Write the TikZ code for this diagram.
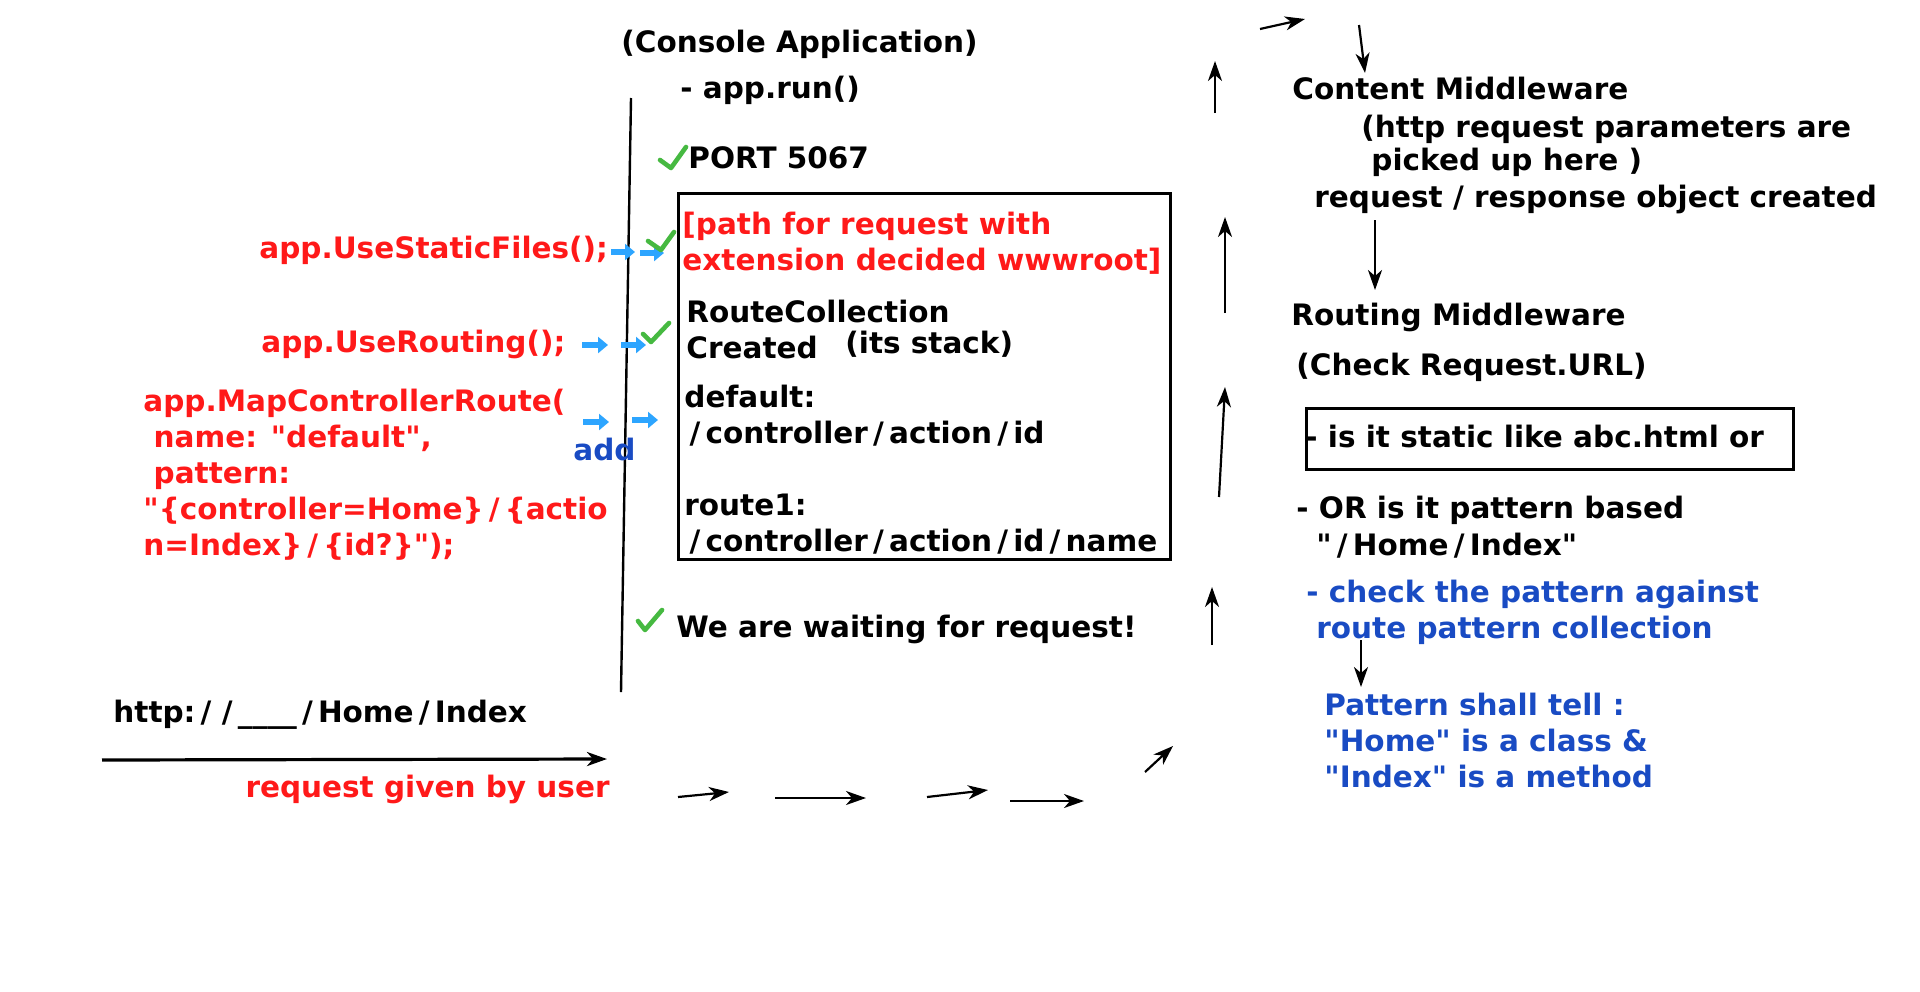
\documentclass[tikz,border=0pt]{standalone}
\usepackage{fontspec}
\newfontfamily\notefont{DejaVu Sans}
\usetikzlibrary{arrows.meta}
\definecolor{notered}{RGB}{255,25,25}
\definecolor{noteblue}{RGB}{25,75,195}
\definecolor{hintblue}{RGB}{45,165,255}
\definecolor{tickgreen}{RGB}{70,185,65}
\newcommand\wsl{\kern2.6pt/\kern2.6pt}
\tikzset{
  txt/.style={anchor=base west, inner sep=0pt, align=left, font=\notefont\fontsize{14.75}{18}\selectfont\bfseries},
  redtxt/.style={txt, text=notered},
  bluetxt/.style={txt, text=noteblue},
  frame/.style={draw, line width=1.3pt, inner sep=0pt, anchor=north west},
  flow/.style={-{Stealth[length=10pt,width=7pt,inset=3pt]}, line width=1.1pt},
  hint/.style={-{Triangle[length=5pt,width=8pt]}, line width=2.6pt, draw=hintblue},
  tick/.style={draw=tickgreen, line width=2.3pt, line cap=round, line join=round},
}

\begin{document}
\begin{tikzpicture}[x=0.5pt, y=-0.5pt]
  \useasboundingbox (0,0) rectangle (1920,991);

  % console application column (multi-line nodes sit on their last line)
  \node[txt] (console) at (621,52) {(Console Application)};
  \node[txt] (run) at (680,98) {- app.run()};
  \node[txt] (port) at (688,168) {PORT 5067};
  \node[frame, minimum width=246pt, minimum height=183pt] (store) at (677,192) {};
  \node[redtxt] (wwwroot) at (682,270) {[path for request with\\extension decided wwwroot]};
  \node[txt] (routes) at (686,358) {RouteCollection\\Created};
  \node[txt] (stack) at (845,353) {(its stack)};
  \node[txt] (deflt) at (684,443) {default:\\\wsl controller\wsl action\wsl id};
  \node[txt] (route1) at (684,551) {route1:\\\wsl controller\wsl action\wsl id\wsl name};
  \node[txt] (wait) at (676,637) {We are waiting for request!};
  \coordinate (life-top) at (631,98);
  \coordinate (life-end) at (621,692);
  \draw[line width=1.2pt] (life-top) -- (life-end);

  % program.cs calls
  \node[redtxt] (static) at (259,258) {app.UseStaticFiles();};
  \node[redtxt] (routing) at (261,352) {app.UseRouting();};
  \node[redtxt] (mapper) at (143,555) {app.MapControllerRoute(\\\ name: "default",\\\ pattern:\\"\{controller=Home\}\wsl\{actio\\n=Index\}\wsl\{id?\}");};
  \node[bluetxt] (add) at (573,460) {add};

  % user request
  \node[txt] (url) at (113,722) {http:\wsl\wsl\_\_\_\_\wsl Home\wsl Index};
  \node[redtxt, anchor=base east] (given) at (610,797) {request given by user};
  \coordinate (user-from) at (102,760);
  \coordinate (user-to) at (607,759);
  \draw[flow, line width=1.6pt] (user-from) -- (user-to);

  % middleware column
  \node[txt] (content) at (1292,99) {Content Middleware};
  \node[txt] (params) at (1361,137) {(http request parameters are};
  \node[txt] (picked) at (1371,170) {picked up here )};
  \node[txt] (created) at (1314,207) {request / response object created};
  \node[txt] (routingmw) at (1291,325) {Routing Middleware};
  \node[txt] (checkurl) at (1296,375) {(Check Request.URL)};
  \node[frame, minimum width=243.5pt, minimum height=30.5pt] (isstatic) at (1305,407) {};
  \node[txt] (staticq) at (1305,447) {- is it static like abc.html or};
  \node[txt] (based) at (1296,518) {- OR is it pattern based};
  \node[txt] (homeidx) at (1316,555) {"\wsl Home\wsl Index"};
  \node[bluetxt] (against) at (1306,602) {- check the pattern against};
  \node[bluetxt] (collect) at (1316,638) {route pattern collection};
  \node[bluetxt] (tell) at (1324,787) {Pattern shall tell :\\"Home" is a class \&\\"Index" is a method};

  % request travelling through the pipeline
  \foreach \n/\xa/\ya/\xb/\yb in {
      b1/678/797/729/792, b2/775/798/866/798, b3/927/797/988/790,
      b4/1010/801/1084/801, b5/1145/772/1173/746,
      u1/1212/645/1212/587, u2/1219/497/1225/387, u3/1225/313/1225/217,
      u4/1215/113/1215/61, t1/1260/29/1305/19, d1/1359/25/1365/73,
      d2/1375/220/1375/290, d3/1361/640/1361/687} {
    \coordinate (\n-from) at (\xa,\ya);
    \coordinate (\n-to) at (\xb,\yb);
    \draw[flow] (\n-from) -- (\n-to);
  }

  % blue hints into the console
  \foreach \n/\xa/\ya/\xb/\yb in {
      h1/611/252/635/252, h2/640/253/664/253,
      h3/582/345/608/345, h4/621/345/646/345,
      h5/583/422/609/422, h6/632/420/658/420} {
    \coordinate (\n-from) at (\xa,\ya);
    \coordinate (\n-to) at (\xb,\yb);
    \draw[hint] (\n-from) -- (\n-to);
  }

  % ticks
  \foreach \ax/\ay/\bx/\by/\cx/\cy in {
      660/160/671/168/686/147, 648/241/661/250/674/232,
      643/334/651/342/669/323, 638/621/645/630/662/610} {
    \draw[tick] (\ax,\ay) -- (\bx,\by) -- (\cx,\cy);
  }
\end{tikzpicture}
\end{document}
